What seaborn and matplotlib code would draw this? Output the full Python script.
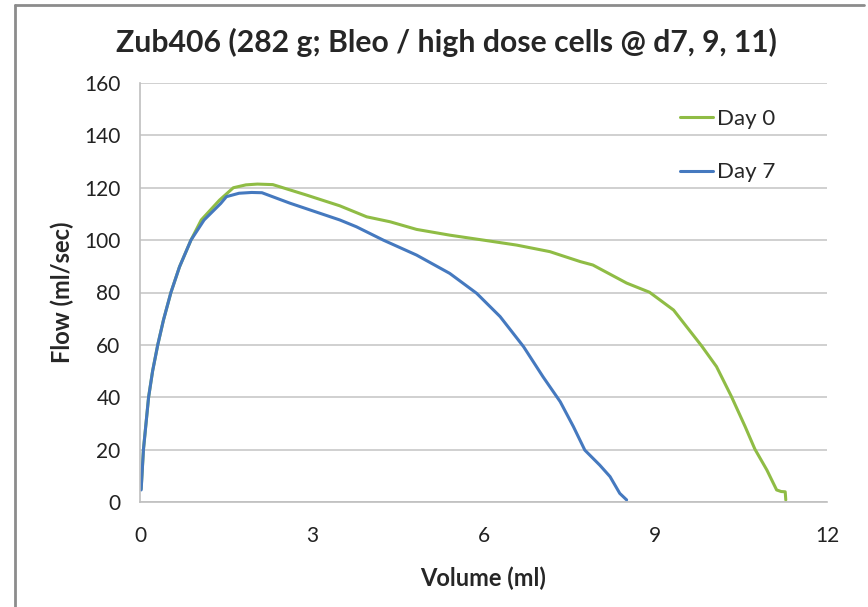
import seaborn as sns
import matplotlib.pyplot as plt
import pandas as pd
from matplotlib.lines import Line2D

# Day 0 flow-volume curve
day0_volume = [0.02, 0.06, 0.105, 0.15, 0.22, 0.31, 0.41, 0.54, 0.69, 0.89, 1.07,
               1.39, 1.63, 1.85, 2.05, 2.32, 2.91, 3.49, 3.96, 4.37, 4.83,
               5.41, 6.00, 6.58, 7.16, 7.34, 7.69, 7.91, 8.50, 8.90, 9.32,
               9.81, 10.07, 10.33, 10.57, 10.74, 10.95, 11.12, 11.20, 11.27, 11.28]
day0_flow = [5.0, 20.0, 30.0, 40.0, 50.0, 60.0, 69.5, 80.0, 89.8, 100.0, 107.7,
             115.3, 120.0, 121.1, 121.4, 121.2, 117.2, 113.1, 108.9, 107.0, 104.1,
             101.9, 100.0, 98.1, 95.6, 94.3, 91.8, 90.5, 83.6, 80.1, 73.3,
             59.6, 51.7, 40.3, 28.8, 20.2, 12.2, 4.6, 4.0, 3.9, 0.8]

# Day 7
day7_volume = [0.02, 0.06, 0.105, 0.15, 0.22, 0.31, 0.41, 0.54, 0.69, 0.89, 1.12,
               1.41, 1.51, 1.73, 1.95, 2.13, 2.62, 3.49, 3.78, 4.25, 4.83,
               5.41, 5.88, 6.29, 6.70, 7.04, 7.34, 7.57, 7.77, 8.03, 8.21,
               8.38, 8.50]
day7_flow = [4.6, 20.0, 30.0, 40.0, 50.0, 60.0, 69.5, 80.0, 89.8, 100.0, 107.7,
             114.0, 116.6, 117.9, 118.2, 118.1, 114.1, 107.7, 105.1, 100.0, 94.3,
             87.3, 79.7, 70.8, 59.3, 47.8, 38.3, 28.8, 19.8, 14.1, 9.7,
             3.3, 0.8]

df = pd.concat([
    pd.DataFrame({'Volume': day0_volume, 'Flow': day0_flow, 'Day': 'Day 0'}),
    pd.DataFrame({'Volume': day7_volume, 'Flow': day7_flow, 'Day': 'Day 7'}),
])

sns.set_style("white")
plt.rcParams['font.family'] = ['Lato', 'DejaVu Sans']

fig = plt.figure(figsize=(8.68, 6.07), dpi=100)
ax = fig.add_axes([140 / 868, 1 - 502 / 607, 687 / 868, 419 / 607])

sns.lineplot(data=df, x='Volume', y='Flow', hue='Day', sort=False, estimator=None,
             palette={'Day 0': '#8fbc45', 'Day 7': '#4579bf'}, linewidth=2.2, ax=ax)

ax.set_xlim(0, 12)
ax.set_ylim(0, 160)
ax.set_xticks([0, 3, 6, 9, 12])
ax.set_yticks(range(0, 161, 20))
ax.grid(axis='y', color='#c8c8c8', linewidth=1.2)
ax.set_axisbelow(True)
for side in ['top', 'right']:
    ax.spines[side].set_visible(False)
for side in ['left', 'bottom']:
    ax.spines[side].set_color('#bfbfbf')
    ax.spines[side].set_linewidth(1.2)
ax.tick_params(axis='both', length=6, width=1.2, color='#bfbfbf', labelsize=15,
               labelcolor='#222222', direction='out')
ax.tick_params(axis='x', pad=11)
ax.tick_params(axis='y', pad=8)

ax.set_xlabel('Volume (ml)', fontsize=17, fontweight='bold', labelpad=15)
ax.set_ylabel('Flow (ml/sec)', fontsize=17, fontweight='bold', labelpad=7)
fig.text(446 / 868, 1 - 42 / 607, 'Zub406 (282 g; Bleo / high dose cells @ d7, 9, 11)',
         fontsize=21.7, fontweight='bold', ha='center', va='center')

ax.legend(title=None, frameon=False, loc='upper left', bbox_to_anchor=(0.786, 0.938),
          borderaxespad=0, borderpad=0, fontsize=16, handlelength=1.5,
          handletextpad=0.15, labelspacing=1.5)

# outer chart frame (top and left edges)
fig.add_artist(Line2D([15 / 868, 864 / 868], [1 - 5 / 607, 1 - 5 / 607],
                      color='#8c8c8c', linewidth=2))
fig.add_artist(Line2D([15 / 868, 15 / 868], [0, 1 - 5 / 607],
                      color='#8c8c8c', linewidth=2))

fig.savefig('out.png', dpi=100)
